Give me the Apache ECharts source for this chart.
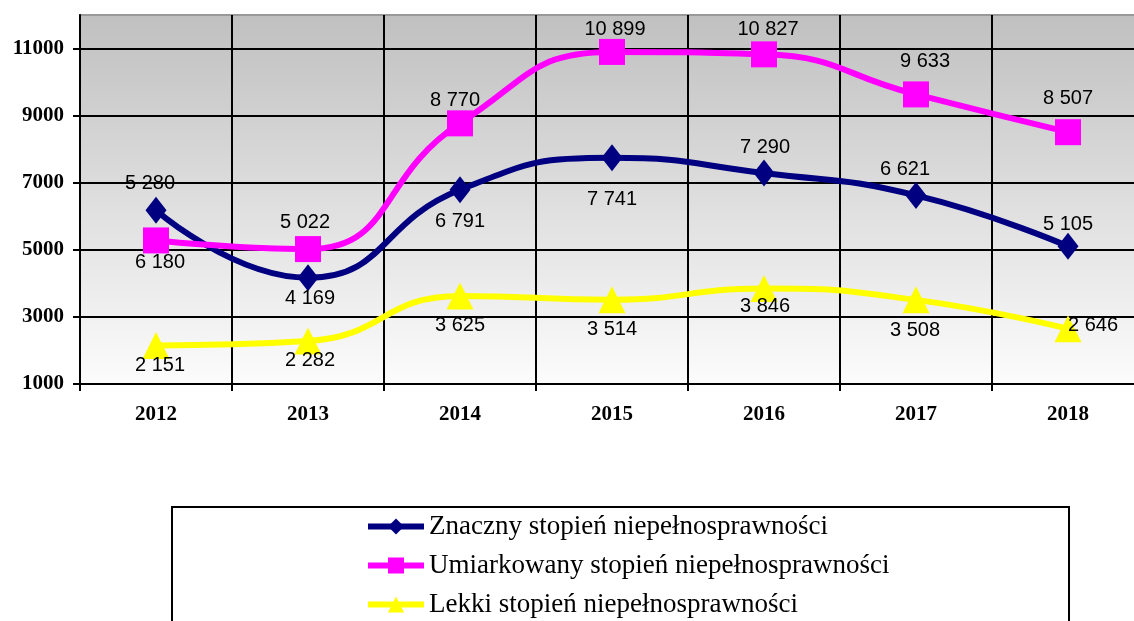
<!DOCTYPE html>
<html>
<head>
<meta charset="utf-8">
<script src="https://cdn.jsdelivr.net/npm/echarts@6/dist/echarts.min.js"></script>
<style>
  html, body { margin: 0; padding: 0; background: #fff; }
  #chart { width: 1134px; height: 621px; }
</style>
</head>
<body>
<div id="chart"></div>
<script>
// dane z wykresu
const years = ['2012', '2013', '2014', '2015', '2016', '2017', '2018'];
const znaczny = [6180, 4169, 6791, 7741, 7290, 6621, 5105];
const umiarkowany = [5280, 5022, 8770, 10899, 10827, 9633, 8507];
const lekki = [2151, 2282, 3625, 3514, 3846, 3508, 2646];
const yTicks = [1000, 3000, 5000, 7000, 9000, 11000];
const seriesNames = [
  'Znaczny stopień niepełnosprawności',
  'Umiarkowany stopień niepełnosprawności',
  'Lekki stopień niepełnosprawności'
];

// przesuniecia etykiet (tylko styl)
const znacznyShift = [[4, 52], [2, 21], [0, 32], [0, 42], [1, -26], [-11, -26], [0, -22]];
const umiarkowanyShift = [[-6, -57], [-3, -27], [-5, -23], [3, -22], [4, -25], [9, -33], [0, -34]];
const lekkiShift = [[4, 20], [2, 19], [0, 30], [0, 30], [1, 18], [-1, 31], [25, -3]];

const fmt = (v) => String(v).replace(/\B(?=(\d{3})+(?!\d))/g, ' ');

const withLabels = (values, shifts) => values.map((v, i) => ({
  value: v,
  label: { offset: shifts[i] }
}));

const labelStyle = {
  show: true,
  position: 'inside',
  color: '#000',
  fontFamily: 'Liberation Sans, Arial, sans-serif',
  fontSize: 20,
  formatter: (p) => fmt(p.value)
};

const lineSeries = (name, values, shifts, color, symbol, size) => ({
  name: name,
  type: 'line',
  smooth: 0.5,
  symbol: symbol,
  symbolSize: size,
  data: withLabels(values, shifts),
  itemStyle: { color: color },
  lineStyle: { color: color, width: 6 },
  label: labelStyle
});

const myChart = echarts.init(document.getElementById('chart'));
const option = {
  animation: false,
  backgroundColor: '#fff',
  grid: {
    left: 80,
    top: 15,
    width: 1064,
    bottom: 237,
    outerBoundsMode: 'none',
    show: true,
    borderColor: '#999',
    borderWidth: 2,
    backgroundColor: new echarts.graphic.LinearGradient(0, 0, 0, 1, [
      { offset: 0, color: '#c0c0c0' },
      { offset: 1, color: '#fcfcfc' }
    ])
  },
  graphic: [{
    type: 'rect',
    z: 0,
    shape: { x: 172, y: 507, width: 897, height: 140 },
    style: { fill: '#fff', stroke: '#000', lineWidth: 2 }
  }],
  legend: {
    orient: 'vertical',
    left: 365,
    top: 513,
    height: 130,
    padding: 0,
    itemWidth: 56,
    itemHeight: 20,
    itemGap: 12,
    lineStyle: { width: 6 },
    textStyle: {
      color: '#000',
      fontFamily: 'Liberation Serif, Times New Roman, serif',
      fontSize: 27
    },
    data: seriesNames
  },
  xAxis: {
    type: 'category',
    data: years,
    boundaryGap: true,
    axisLine: { lineStyle: { color: '#000', width: 2 } },
    axisTick: { show: true, length: 7, interval: 0, lineStyle: { color: '#000', width: 2 } },
    splitLine: { show: true, interval: 0, lineStyle: { color: '#000', width: 2 } },
    axisLabel: {
      margin: 20,
      color: '#000',
      fontFamily: 'Liberation Serif, Times New Roman, serif',
      fontWeight: 'bold',
      fontSize: 21
    }
  },
  yAxis: {
    type: 'value',
    min: 1000,
    max: 12000,
    axisLine: { show: true, lineStyle: { color: '#000', width: 2 } },
    axisTick: { show: true, length: 7, customValues: yTicks, lineStyle: { color: '#000', width: 2 } },
    splitLine: { show: true, lineStyle: { color: '#000', width: 2 } },
    axisLabel: {
      customValues: yTicks,
      margin: 16,
      color: '#000',
      fontFamily: 'Liberation Serif, Times New Roman, serif',
      fontWeight: 'bold',
      fontSize: 21,
      formatter: (v) => String(v)
    }
  },
  series: [
    lineSeries(seriesNames[0], znaczny, znacznyShift, '#000080', 'diamond', [21, 27]),
    lineSeries(seriesNames[1], umiarkowany, umiarkowanyShift, '#ff00ff', 'rect', 26),
    lineSeries(seriesNames[2], lekki, lekkiShift, '#ffff00', 'triangle', 27)
  ]
};
myChart.setOption(option);
</script>
</body>
</html>
